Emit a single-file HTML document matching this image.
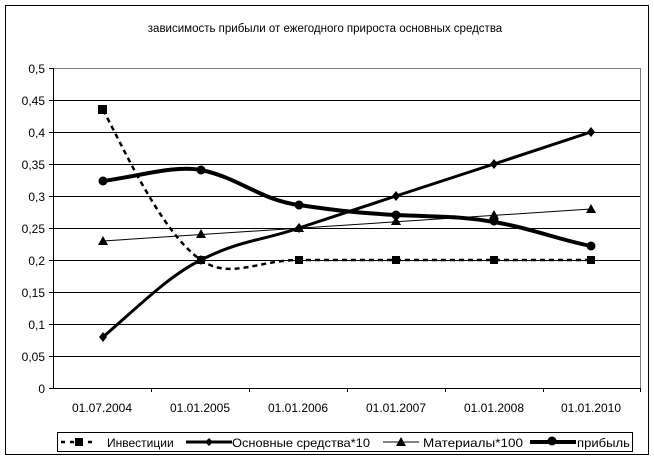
<!DOCTYPE html><html><head><meta charset="utf-8"><style>body{margin:0;background:#fff}svg{display:block}text{font-family:"Liberation Sans",sans-serif;fill:#000}</style></head><body>
<svg width="654" height="458" viewBox="0 0 654 458">
<rect x="5.5" y="5.5" width="643" height="449" fill="#fff" stroke="#000"/>
<text x="325" y="32" font-size="11.5" text-anchor="middle">зависимость прибыли от ежегодного прироста основных средства</text>
<g stroke="#000" stroke-width="1">
<line x1="53" y1="68.5" x2="640" y2="68.5" stroke="#808080"/>
<line x1="53" y1="100.5" x2="640" y2="100.5"/><line x1="53" y1="132.5" x2="640" y2="132.5"/><line x1="53" y1="164.5" x2="640" y2="164.5"/><line x1="53" y1="196.5" x2="640" y2="196.5"/><line x1="53" y1="228.5" x2="640" y2="228.5"/><line x1="53" y1="260.5" x2="640" y2="260.5"/><line x1="53" y1="292.5" x2="640" y2="292.5"/><line x1="53" y1="324.5" x2="640" y2="324.5"/><line x1="53" y1="356.5" x2="640" y2="356.5"/>
<line x1="640.5" y1="68" x2="640.5" y2="388" stroke="#808080"/>
<line x1="53.5" y1="68" x2="53.5" y2="388"/><line x1="53" y1="388.5" x2="640" y2="388.5"/>
<path d="M49 68.5h4M49 100.5h4M49 132.5h4M49 164.5h4M49 196.5h4M49 228.5h4M49 260.5h4M49 292.5h4M49 324.5h4M49 356.5h4M49 388.5h4M151.5 388v4M249.5 388v4M347.5 388v4M445.5 388v4M543.5 388v4M640.5 388v4"/>
</g>
<g font-size="12" text-anchor="end">
<text x="45" y="73">0,5</text><text x="45" y="105">0,45</text><text x="45" y="137">0,4</text><text x="45" y="169">0,35</text><text x="45" y="201">0,3</text><text x="45" y="233">0,25</text><text x="45" y="265">0,2</text><text x="45" y="297">0,15</text><text x="45" y="329">0,1</text><text x="45" y="361">0,05</text><text x="45" y="393">0</text>
</g>
<g font-size="12" text-anchor="middle">
<text x="102" y="412">01.07.2004</text><text x="200" y="412">01.01.2005</text><text x="298" y="412">01.01.2006</text><text x="396" y="412">01.01.2007</text><text x="494" y="412">01.01.2008</text><text x="591" y="412">01.01.2010</text>
</g>
<g fill="none" stroke="#000">
<path d="M103,110 C120,140 160,232 201,260 C230,280 258,260 299,260 L591,260" stroke-width="2.5" stroke-dasharray="5,4"/>
<path d="M103,337 C140,305 170,275 201,260 C240,240 265,240 299,228 L396,196 L494,164 L591,132" stroke-width="3"/>
<path d="M103,241 L591,209" stroke-width="1"/>
<path d="M103,181 C140,176 175,165 201,170 C240,178 260,200 299,205 C340,211 360,213 396,215 C440,217 460,216 494,222 C530,228 560,240 591,246" stroke-width="4"/>
</g>
<g fill="#000">
<rect x="98" y="105" width="9" height="9"/><rect x="197" y="256" width="8" height="8"/><rect x="295" y="256" width="8" height="8"/><rect x="392" y="256" width="8" height="8"/><rect x="490" y="256" width="8" height="8"/><rect x="587" y="256" width="8" height="8"/>
<path d="M103,332l4,5-4,5-4-5zM201,255l4,5-4,5-4-5zM299,223l4,5-4,5-4-5zM396,191l4,5-4,5-4-5zM494,159l4,5-4,5-4-5zM591,127l4,5-4,5-4-5z"/>
<path d="M103,236l5,9h-10zM201,229l5,9h-10zM299,223l5,9h-10zM396,216l5,9h-10zM494,210l5,9h-10zM591,204l5,9h-10z"/>
<circle cx="103" cy="181" r="4.5"/><circle cx="201" cy="170" r="4.5"/><circle cx="299" cy="205" r="4.5"/><circle cx="396" cy="215" r="4.5"/><circle cx="494" cy="221" r="4.5"/><circle cx="591" cy="246" r="4.5"/>
</g>
<rect x="57.5" y="432.5" width="575" height="19" fill="#fff" stroke="#000"/>
<g stroke="#000" fill="none">
<path d="M61,442h36" stroke-width="2.5" stroke-dasharray="4,5"/>
<path d="M186,442h46" stroke-width="3"/>
<path d="M383,442h36"/>
<path d="M530,442h46" stroke-width="4"/>
</g>
<g fill="#000"><rect x="75" y="438" width="8" height="8"/><path d="M209,438l4,4-4,4-4-4z"/><path d="M401,437l5,9h-10z"/><circle cx="552" cy="441" r="4.5"/></g>
<g font-size="12"><text x="107" y="447">Инвестиции</text><text x="232" y="447" textLength="138" lengthAdjust="spacingAndGlyphs">Основные средства*10</text><text x="423" y="447" textLength="100" lengthAdjust="spacingAndGlyphs">Материалы*100</text><text x="577" y="447" textLength="53" lengthAdjust="spacingAndGlyphs">прибыль</text></g>
</svg></body></html>
